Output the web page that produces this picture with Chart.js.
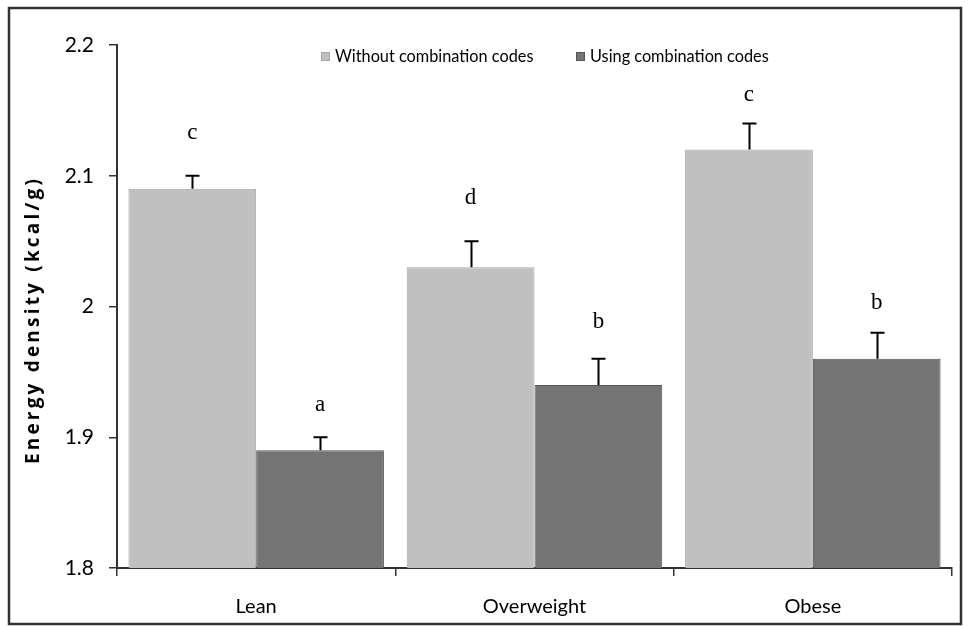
<!DOCTYPE html>
<html>
<head>
<meta charset="utf-8">
<script src="https://cdn.jsdelivr.net/npm/chart.js@4.4.1/dist/chart.umd.min.js"></script>
<style>
    html, body { margin: 0; padding: 0; background: #fff; }
    #wrap { width: 969px; height: 627px; position: relative; }
</style>
</head>
<body>
<div id="wrap"><canvas id="chart" width="969" height="627"></canvas></div>
<script>
// Data
const categories = ['Lean', 'Overweight', 'Obese'];
const seriesNames = ['Without combination codes', 'Using combination codes'];
const withoutCodes = [2.09, 2.03, 2.12];
const usingCodes = [1.89, 1.94, 1.96];
const withoutErr = [0.01, 0.02, 0.02];
const usingErr = [0.01, 0.02, 0.02];
const withoutLetters = ['c', 'd', 'c'];
const usingLetters = ['a', 'b', 'b'];
// where the letters sit, in axis units
const withoutLetterAt = [2.133, 2.083, 2.162];
const usingLetterAt = [1.925, 1.988, 2.003];
const yTicks = [1.8, 1.9, 2.0, 2.1, 2.2];
const yTitle = 'Energy density (kcal/g)';

const sansFont = 'Lato, "Open Sans", sans-serif';
const serifFont = '"Liberation Serif", "DejaVu Serif", serif';

// Error bars, significance letters, legend, axis title and frame
const extrasPlugin = {
    id: 'extras',
    afterDatasetsDraw(chart) {
        const ctx = chart.ctx;
        const y = chart.scales.y;
        const errs = [withoutErr, usingErr];
        const letters = [withoutLetters, usingLetters];
        const letterAt = [withoutLetterAt, usingLetterAt];

        ctx.save();
        chart.data.datasets.forEach((ds, di) => {
            const meta = chart.getDatasetMeta(di);
            meta.data.forEach((bar, i) => {
                const top = y.getPixelForValue(ds.data[i] + errs[di][i]);
                const x = Math.round(bar.x) + 0.5;
                ctx.strokeStyle = '#000';
                ctx.lineWidth = 2;
                ctx.beginPath();
                ctx.moveTo(x, bar.y);
                ctx.lineTo(x, top);
                ctx.moveTo(x - 7, top);
                ctx.lineTo(x + 7, top);
                ctx.stroke();

                ctx.fillStyle = '#000';
                ctx.font = '23px ' + serifFont;
                ctx.textAlign = 'center';
                ctx.textBaseline = 'middle';
                ctx.fillText(letters[di][i], bar.x, y.getPixelForValue(letterAt[di][i]));
            });
        });

        // legend
        const legendX = [321, 576];
        ctx.font = '16.3px ' + sansFont;
        ctx.textAlign = 'left';
        ctx.textBaseline = 'middle';
        chart.data.datasets.forEach((ds, di) => {
            ctx.fillStyle = ds.backgroundColor;
            ctx.fillRect(legendX[di], 52, 9, 9);
            ctx.strokeStyle = ds.borderColor;
            ctx.lineWidth = 1;
            ctx.strokeRect(legendX[di] + 0.5, 52.5, 8, 8);
            ctx.fillStyle = '#000';
            ctx.fillText(seriesNames[di], legendX[di] + 14, 57);
        });

        // y axis title, slightly letter-spaced like the original
        ctx.translate(34, 320);
        ctx.rotate(-Math.PI / 2);
        ctx.font = 'bold 19px "Open Sans", Lato, sans-serif';
        ctx.textAlign = 'center';
        ctx.textBaseline = 'middle';
        ctx.fillStyle = '#000';
        const plain = ctx.measureText(yTitle).width;
        ctx.letterSpacing = Math.max(0, (285 - plain) / (yTitle.length - 1)) + 'px';
        ctx.fillText(yTitle, 0, 0);
        ctx.letterSpacing = '0px';
        ctx.setTransform(1, 0, 0, 1, 0, 0);

        // outer frame
        ctx.strokeStyle = '#333';
        ctx.lineWidth = 2.5;
        ctx.strokeRect(9, 8, 952, 616);
        ctx.restore();
    }
};

const ctx = document.getElementById('chart').getContext('2d');
new Chart(ctx, {
    type: 'bar',
    data: {
        labels: categories,
        datasets: [{
            label: seriesNames[0],
            data: withoutCodes,
            backgroundColor: '#c0c0c0',
            borderColor: '#a8a8a8',
            borderWidth: 1
        }, {
            label: seriesNames[1],
            data: usingCodes,
            backgroundColor: '#747474',
            borderColor: '#555555',
            borderWidth: 1
        }]
    },
    options: {
        responsive: false,
        animation: false,
        devicePixelRatio: 1,
        layout: { padding: { left: 0, top: 45, right: 17, bottom: 0 } },
        plugins: {
            legend: { display: false },
            tooltip: { enabled: false }
        },
        datasets: {
            bar: { categoryPercentage: 0.918, barPercentage: 1.0 }
        },
        scales: {
            x: {
                offset: true,
                grid: { offset: true, drawOnChartArea: false, drawTicks: true, tickLength: 8, color: '#333', lineWidth: 1.5 },
                border: { display: true, color: '#333', width: 2 },
                ticks: { color: '#000', font: { family: sansFont, size: 20 }, padding: 19 },
                afterFit(scale) { scale.height = 59; }
            },
            y: {
                min: 1.8,
                max: 2.2,
                afterBuildTicks(scale) {
                    scale.ticks = yTicks.map(v => ({ value: v }));
                },
                grid: { drawOnChartArea: false, drawTicks: true, tickLength: 8, color: '#333', lineWidth: 1.5 },
                border: { display: true, color: '#333', width: 2 },
                ticks: {
                    color: '#000',
                    font: { family: sansFont, size: 21 },
                    padding: 15,
                    callback: v => String(+Number(v).toFixed(1))
                },
                afterFit(scale) { scale.width = 117; }
            }
        }
    },
    plugins: [extrasPlugin]
});
</script>
</body>
</html>
